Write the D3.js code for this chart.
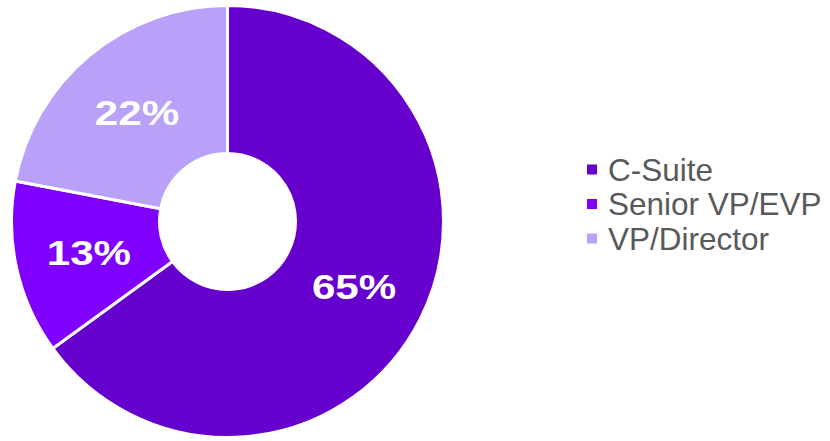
<!DOCTYPE html>
<html lang="en">
<head>
    <meta charset="UTF-8" />
    <title>Donut chart</title>
    <script src="https://d3js.org/d3.v7.min.js"></script>
    <style>
        body { margin: 0; background: #fff; }
        .arc path { stroke: #fff; stroke-width: 3px; }
        .pct { fill: #fff; font-family: "Liberation Sans", Arial, sans-serif; font-weight: bold; font-size: 36px; }
        .legend text { fill: #595959; font-family: "Liberation Sans", Arial, sans-serif; font-size: 31.5px; }
    </style>
</head>
<body>
    <svg width="830" height="441"></svg>
    <script>
        const categories = ["C-Suite", "Senior VP/EVP", "VP/Director"];
        const values = [65, 13, 22];
        const colors = ["#6600CC", "#8000FF", "#B9A1FA"];

        const svg = d3.select("svg");
        const cx = 227.5, cy = 221.5, outerR = 216, innerR = 68;

        const data = categories.map((c, i) => ({ name: c, value: values[i], color: colors[i] }));

        const pie = d3.pie().value(d => d.value).sort(null);
        const arc = d3.arc().outerRadius(outerR).innerRadius(innerR);

        const g = svg.append("g").attr("transform", `translate(${cx},${cy})`);

        const slices = g.selectAll(".arc")
            .data(pie(data))
            .enter()
            .append("g")
            .attr("class", "arc");

        slices.append("path")
            .attr("d", arc)
            .attr("fill", d => d.data.color);

        // percentage labels, slightly widened like the original
        slices.append("text")
            .attr("class", "pct")
            .attr("text-anchor", "middle")
            .attr("dy", "0.36em")
            .attr("transform", d => {
                const [x, y] = arc.centroid(d);
                return `translate(${x},${y}) scale(1.17,1)`;
            })
            .text(d => d.data.value + "%");

        // legend
        const legend = svg.append("g").attr("class", "legend")
            .attr("transform", "translate(587,0)");

        const row = legend.selectAll("g")
            .data(data)
            .enter()
            .append("g")
            .attr("transform", (d, i) => `translate(0,${180.5 + i * 34.5})`);

        row.append("rect")
            .attr("x", 0)
            .attr("y", -16)
            .attr("width", 10)
            .attr("height", 10)
            .attr("fill", d => d.color);

        row.append("text")
            .attr("x", 21)
            .attr("y", 0)
            .text(d => d.name);
    </script>
</body>
</html>
